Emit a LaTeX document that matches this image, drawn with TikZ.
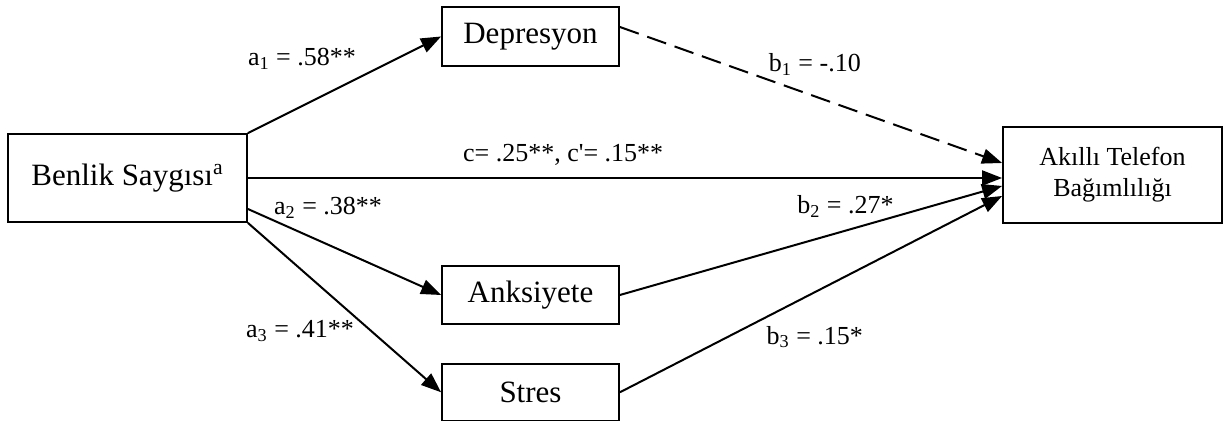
\documentclass[tikz,border=0pt]{standalone}
\usepackage{fontspec}
\setmainfont{Liberation Serif}
\usepackage{tikz}
\usetikzlibrary{arrows.meta, positioning}
\tikzset{
  box/.style={draw, line width=0.9pt, inner sep=2pt, font=\fontsize{15.5}{18}\selectfont},
  coef/.style={font=\fontsize{13}{15}\selectfont, inner sep=0pt},
}

\begin{document}
\begin{tikzpicture}[x=0.5pt, y=-0.5pt, >={Triangle[length=10pt,width=7.5pt]}, line width=1pt]
\useasboundingbox (0,0) rectangle (1223,421);
\node[box, minimum width=119.5pt, minimum height=44pt] (bs) at (127.5,178) {Benlik Saygısı\textsuperscript{a}};
\node[box, minimum width=88.5pt, minimum height=29.5pt] (dep) at (530.5,36.5) {Depresyon};
\node[box, minimum width=88.5pt, minimum height=29pt] (anx) at (530.5,295) {Anksiyete};
\node[box, minimum width=88.5pt, minimum height=28.5pt, below=19pt of anx] (str) {Stres};
\node[box, minimum width=109.5pt, minimum height=48pt, align=center, font=\fontsize{13}{15.5}\selectfont] (atb) at (1112.5,175) {Akıllı Telefon\\Bağımlılığı};
% a paths
\draw [->] (bs.north east) -- node [coef, pos=0.28, yshift=23.5pt] {a\textsubscript{1} = .58**} (dep.west);
\draw [->] ([yshift=-15.5pt]bs.east) -- node [coef, pos=0.415, yshift=18.5pt] {a\textsubscript{2} = .38**} (anx.west);
\draw [->] (bs.south east) -- node [coef, pos=0.27, yshift=-31pt] {a\textsubscript{3} = .41**} (str.west);
% c path
\draw [->] (bs.east) -- node [coef, pos=0.418, yshift=11.5pt] {c= .25**, c\textquotesingle= .15**} (bs.east -| atb.west);
% b paths
\draw [->, dash pattern=on 10pt off 4.5pt] ([yshift=4.75pt]dep.east) -- node [coef, pos=0.51, yshift=16pt] {b\textsubscript{1} = -.10} ([yshift=6pt]atb.west);
\draw [->] (anx.east) -- node [coef, pos=0.59, yshift=12pt] {b\textsubscript{2} = .27*} ([yshift=-5.5pt]atb.west);
\draw [->] (str.east) -- node [coef, pos=0.51, yshift=-22.4pt] {b\textsubscript{3} = .15*} ([yshift=-10.5pt]atb.west);
\end{tikzpicture}
\end{document}
